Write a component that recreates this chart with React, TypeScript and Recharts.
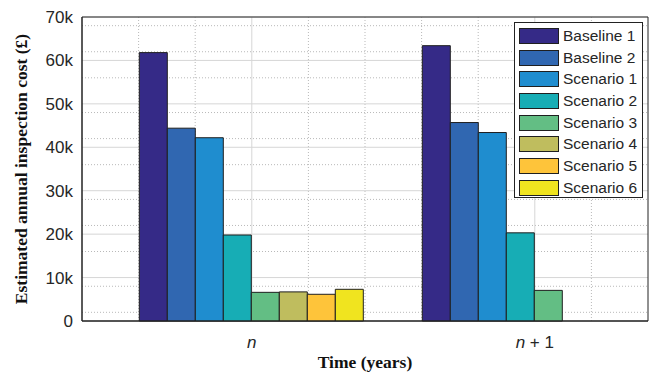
import React from "react";
import {
  BarChart,
  Bar,
  XAxis,
  YAxis,
  CartesianGrid,
  ReferenceArea,
} from "recharts";

// ---- data ----
const periods = [1, 2];
const periodLabels = ["n", "n + 1"];

const baseline1 = [61800, 63400];
const baseline2 = [44400, 45700];
const scenario1 = [42200, 43400];
const scenario2 = [19800, 20300];
const scenario3 = [6600, 7050];
const scenario4 = [6700, null];
const scenario5 = [6150, null];
const scenario6 = [7300, null];

const seriesNames = [
  "Baseline 1",
  "Baseline 2",
  "Scenario 1",
  "Scenario 2",
  "Scenario 3",
  "Scenario 4",
  "Scenario 5",
  "Scenario 6",
];
const seriesValues = [
  baseline1,
  baseline2,
  scenario1,
  scenario2,
  scenario3,
  scenario4,
  scenario5,
  scenario6,
];
const seriesColors = [
  "#352a87",
  "#3067b1",
  "#1f8dcf",
  "#17adb5",
  "#63be84",
  "#bfbd5e",
  "#fec43a",
  "#f0e41f",
];

const yTicks = [0, 10000, 20000, 30000, 40000, 50000, 60000, 70000];

// minor grid positions (MATLAB-style dotted grid)
const yMinor: number[] = [];
for (let v = 2000; v < 70000; v += 2000) if (v % 10000 !== 0) yMinor.push(v);
const xMinor = [0.6, 0.8, 1.2, 1.4, 1.6, 1.8, 2.2];
const xLim = [0.4, 2.4];
const yLim = [0, 70000];

const data = periods.map((p, i) => {
  const row: Record<string, number | null> = { t: p };
  seriesNames.forEach((name, s) => {
    row[name] = seriesValues[s][i];
  });
  return row;
});

const FRAME = "#222";
const SANS = "'Liberation Sans', Arial, sans-serif";
const SERIF = "'Liberation Serif', 'Times New Roman', serif";

const fmtK = (v: number) => (v === 0 ? "0" : `${v / 1000}k`);

function PeriodTick(props: any) {
  const { x, y, payload } = props;
  const idx = periods.indexOf(payload.value);
  const label = periodLabels[idx] ?? "";
  const rest = label.slice(1);
  return (
    <text
      x={x}
      y={y + 19}
      textAnchor="middle"
      fontFamily={SANS}
      fontSize={17}
      fill="#262626"
    >
      <tspan fontStyle="italic">{label.charAt(0)}</tspan>
      {rest && <tspan>{rest}</tspan>}
    </text>
  );
}

function YTitle(props: any) {
  const vb = props.viewBox || {};
  const cy = (vb.y || 0) + (vb.height || 0) / 2;
  const cx = 21;
  return (
    <text
      x={cx}
      y={cy}
      transform={`rotate(-90, ${cx}, ${cy})`}
      textAnchor="middle"
      dominantBaseline="central"
      fontFamily={SERIF}
      fontWeight="bold"
      fontSize={17.5}
      fill="#111"
    >
      Estimated annual inspection cost (£)
    </text>
  );
}

function XTitle(props: any) {
  const vb = props.viewBox || {};
  const cx = (vb.x || 0) + (vb.width || 0) / 2;
  return (
    <text
      x={cx}
      y={368}
      textAnchor="middle"
      fontFamily={SERIF}
      fontWeight="bold"
      fontSize={17.5}
      fill="#111"
    >
      Time (years)
    </text>
  );
}

export default function App() {
  return (
    <div
      style={{
        position: "absolute",
        left: 0,
        top: 0,
        width: 653,
        height: 378,
        background: "#fff",
      }}
    >
      <BarChart
        width={653}
        height={378}
        data={data}
        margin={{ top: 17, right: 5, left: 22, bottom: 27 }}
        barSize={28}
        barGap={0}
      >
        <CartesianGrid
          stroke="#b9b9b9"
          strokeDasharray="1 2"
          horizontalValues={yMinor}
          verticalValues={xMinor}
        />
        <CartesianGrid stroke="#d6d6d6" horizontalValues={yTicks} verticalValues={periods} />
        <XAxis
          dataKey="t"
          type="number"
          domain={xLim}
          ticks={periods}
          allowDataOverflow
          height={30}
          stroke={FRAME}
          tickLine={false}
          tick={<PeriodTick />}
          label={<XTitle />}
        />
        <YAxis
          domain={yLim}
          ticks={yTicks}
          width={60}
          stroke={FRAME}
          tickLine={false}
          tickSize={0}
          tickMargin={9}
          tickFormatter={fmtK}
          tick={{ fontFamily: SANS, fontSize: 17, fill: "#262626" }}
          label={<YTitle />}
        />
        {seriesNames.map((name, i) => (
          <Bar
            key={name}
            dataKey={name}
            name={name}
            fill={seriesColors[i]}
            stroke="#1f1f1f"
            strokeWidth={1}
            isAnimationActive={false}
          />
        ))}
        {/* axes box (MATLAB "box on") */}
        <ReferenceArea
          x1={xLim[0]}
          x2={xLim[1]}
          y1={yLim[0]}
          y2={yLim[1]}
          fill="none"
          fillOpacity={0}
          stroke={FRAME}
          strokeWidth={1}
          ifOverflow="visible"
        />
      </BarChart>

      {/* legend box, top right inside the axes */}
      <div
        style={{
          position: "absolute",
          left: 514,
          top: 22,
          width: 129,
          height: 176,
          background: "#fff",
          border: `1px solid ${FRAME}`,
          fontFamily: SANS,
          fontSize: 15.5,
          color: "#262626",
          paddingTop: 2,
          boxSizing: "border-box",
        }}
      >
        {seriesNames.map((name, i) => (
          <div
            key={name}
            style={{ display: "flex", alignItems: "center", height: 21.7 }}
          >
            <div
              style={{
                marginLeft: 4,
                width: 40,
                height: 16,
                background: seriesColors[i],
                border: "1px solid #1f1f1f",
                boxSizing: "border-box",
              }}
            />
            <span style={{ marginLeft: 4, whiteSpace: "nowrap" }}>{name}</span>
          </div>
        ))}
      </div>
    </div>
  );
}
